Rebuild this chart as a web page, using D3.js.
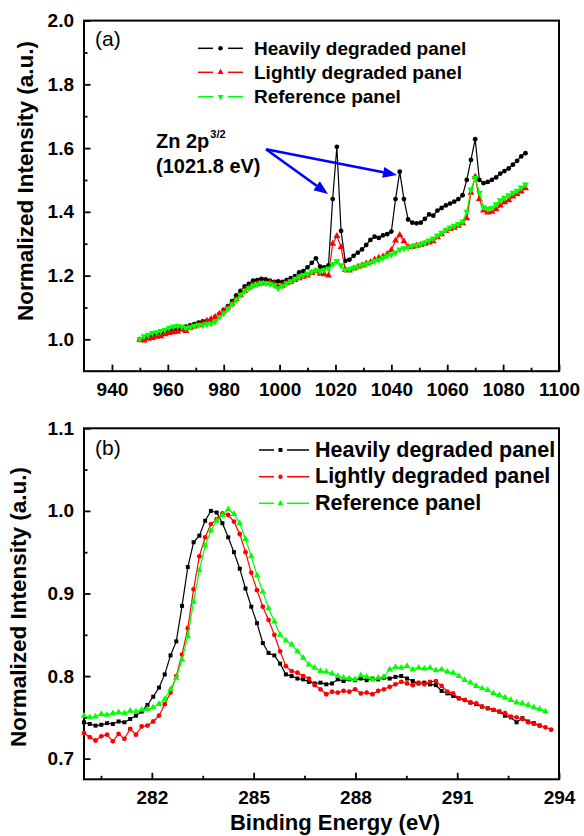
<!DOCTYPE html>
<html><head><meta charset="utf-8">
<script src="https://cdn.jsdelivr.net/npm/d3@7"></script>
<style>body{margin:0;background:#fff} svg{display:block}</style>
</head><body>
<svg id="c" width="584" height="836"></svg>
<script>
// ---------- DATA ----------
// Panel (a): energy grid start/step (eV)
const aStart = 950, aStep = 1.5;
const aHeavy = [1.000,1.004,1.010,1.012,1.018,1.020,1.024,1.028,1.030,1.032,1.036,1.040,1.044,1.048,1.052,1.056,1.058,1.062,1.070,1.080,
1.092,1.104,1.120,1.138,1.152,1.166,1.174,1.184,1.186,1.190,1.188,1.184,1.180,1.182,1.180,1.186,1.192,1.198,1.210,1.214,
1.226,1.240,1.254,1.228,1.226,1.232,1.440,1.604,1.340,1.246,1.250,1.262,1.272,1.282,1.296,1.312,1.322,1.318,1.326,1.330,
1.338,1.440,1.526,1.440,1.376,1.366,1.364,1.366,1.378,1.392,1.388,1.404,1.412,1.420,1.426,1.432,1.440,1.452,1.500,1.563,
1.628,1.500,1.490,1.494,1.500,1.508,1.520,1.528,1.536,1.548,1.560,1.574,1.584];
const aLight = [0.998,0.996,1.002,1.004,1.008,1.010,1.016,1.020,1.022,1.024,1.030,1.026,1.036,1.040,1.044,1.050,1.058,1.064,1.070,1.080,
1.088,1.100,1.112,1.126,1.138,1.152,1.162,1.170,1.174,1.176,1.176,1.178,1.174,1.166,1.168,1.176,1.180,1.186,1.192,1.196,
1.200,1.208,1.214,1.206,1.204,1.200,1.300,1.324,1.290,1.218,1.216,1.222,1.228,1.232,1.238,1.242,1.250,1.256,1.260,1.268,
1.280,1.310,1.327,1.308,1.290,1.290,1.294,1.296,1.300,1.304,1.308,1.320,1.330,1.340,1.346,1.350,1.356,1.364,1.380,1.460,
1.510,1.440,1.404,1.398,1.400,1.408,1.420,1.430,1.436,1.448,1.456,1.464,1.474];
const aRef = [1.000,1.010,1.014,1.020,1.022,1.026,1.030,1.036,1.040,1.042,1.040,1.036,1.038,1.042,1.046,1.044,1.048,1.050,1.056,1.070,
1.082,1.096,1.110,1.124,1.140,1.152,1.160,1.168,1.172,1.176,1.176,1.174,1.170,1.160,1.168,1.176,1.182,1.190,1.196,1.202,
1.206,1.212,1.216,1.214,1.218,1.222,1.236,1.246,1.232,1.218,1.220,1.224,1.228,1.232,1.236,1.240,1.246,1.250,1.256,1.262,
1.266,1.272,1.282,1.286,1.288,1.292,1.296,1.298,1.304,1.310,1.316,1.326,1.334,1.342,1.350,1.356,1.362,1.370,1.400,1.470,
1.506,1.460,1.414,1.410,1.412,1.424,1.436,1.444,1.452,1.460,1.466,1.476,1.486];

// Panel (b): energy grid start/step (eV)
const bStart = 280, bStep = 0.17;
const bHeavy = [0.744,0.742,0.740,0.741,0.743,0.742,0.745,0.744,0.748,0.752,0.757,0.765,0.775,0.786,0.802,0.825,0.842,0.885,0.932,0.962,
0.970,0.988,1.000,0.998,0.985,0.968,0.950,0.930,0.906,0.884,0.864,0.840,0.828,0.825,0.815,0.802,0.800,0.797,0.796,0.793,
0.791,0.792,0.790,0.791,0.796,0.794,0.796,0.795,0.797,0.795,0.797,0.796,0.798,0.797,0.799,0.800,0.797,0.794,0.791,0.792,
0.790,0.789,0.782,0.779,0.776,0.773,0.771,0.768,0.766,0.763,0.761,0.759,0.757,0.752,0.750,0.744,0.749,0.745,0.743,0.740];
const bLight = [0.731,0.726,0.722,0.727,0.729,0.721,0.730,0.724,0.736,0.729,0.739,0.740,0.745,0.752,0.766,0.780,0.800,0.826,0.858,0.905,
0.945,0.968,0.984,0.990,0.997,0.995,0.987,0.972,0.950,0.925,0.904,0.884,0.868,0.850,0.830,0.812,0.806,0.804,0.800,0.797,
0.789,0.784,0.778,0.781,0.780,0.782,0.781,0.784,0.779,0.780,0.778,0.782,0.784,0.787,0.790,0.793,0.791,0.789,0.792,0.790,
0.793,0.794,0.788,0.781,0.779,0.773,0.771,0.768,0.767,0.763,0.761,0.759,0.757,0.755,0.751,0.750,0.748,0.744,0.742,0.740,
0.738,0.735];
const bRef = [0.752,0.750,0.751,0.754,0.753,0.755,0.756,0.755,0.758,0.757,0.759,0.760,0.762,0.766,0.772,0.784,0.798,0.820,0.848,0.890,
0.928,0.958,0.976,0.988,0.995,1.002,0.996,0.985,0.966,0.945,0.922,0.902,0.882,0.866,0.850,0.843,0.838,0.830,0.822,0.814,
0.810,0.806,0.805,0.803,0.800,0.798,0.797,0.796,0.801,0.799,0.796,0.798,0.799,0.808,0.811,0.810,0.812,0.808,0.810,0.809,
0.810,0.807,0.808,0.805,0.804,0.800,0.795,0.792,0.788,0.785,0.783,0.779,0.777,0.774,0.771,0.768,0.767,0.765,0.762,0.760,
0.757];

const aXTicks = [940,960,980,1000,1020,1040,1060,1080,1100];
const aXMinor = [950,970,990,1010,1030,1050,1070,1090];
const aYTicks = [1.0,1.2,1.4,1.6,1.8,2.0];
const aYMinor = [1.1,1.3,1.5,1.7,1.9];
const bXTicks = [282,285,288,291,294];
const bXMinor = [280.5,283.5,286.5,289.5,292.5];
const bYTicks = [0.7,0.8,0.9,1.0,1.1];
const bYMinor = [0.75,0.85,0.95,1.05];
const seriesNames = ["Heavily degraded panel","Lightly degraded panel","Reference panel"];
const seriesColors = ["#000000","#ff0000","#00ff00"];
const yTitle = "Normalized Intensity (a.u.)";
const xTitle = "Binding Energy (eV)";

// ---------- DRAW ----------
const FONT = '"Liberation Sans", Arial, Helvetica, sans-serif';
const svg = d3.select("#c").attr("font-family", FONT);

const xa = d3.scaleLinear([930,1100],[84,559]);
const ya = d3.scaleLinear([0.9,2.0],[371.2,20.6]);
const xb = d3.scaleLinear([280,294],[84,559]);
const yb = d3.scaleLinear([0.675,1.1],[779.3,428.3]);

function axes(x, y, xMaj, xMin, yMaj, yMin, xFmt, yFmt) {
  const [x0,x1] = x.range(), [y0,y1] = y.range();
  const g = svg.append("g");
  const style = s => { s.select(".domain").remove();
    s.attr("font-size",19).attr("font-weight","bold").attr("font-family",FONT);
    s.selectAll("line").attr("stroke","#000").attr("stroke-width",1.8);
    s.selectAll("text").attr("fill","#000"); };
  g.append("g").attr("transform",`translate(0,${y0})`)
    .call(d3.axisBottom(x).tickValues(xMaj).tickSize(-6.5).tickPadding(11).tickFormat(xFmt)).call(style);
  g.append("g").attr("transform",`translate(0,${y0})`)
    .call(d3.axisBottom(x).tickValues(xMin).tickSize(-3.5).tickFormat("")).call(style);
  g.append("g").attr("transform",`translate(${x0},0)`)
    .call(d3.axisLeft(y).tickValues(yMaj).tickSize(-6.5).tickPadding(10).tickFormat(yFmt)).call(style);
  g.append("g").attr("transform",`translate(${x0},0)`)
    .call(d3.axisLeft(y).tickValues(yMin).tickSize(-3.5).tickFormat("")).call(style);
  g.append("rect").attr("x",x0).attr("y",y1).attr("width",x1-x0).attr("height",y0-y1)
    .attr("fill","none").attr("stroke","#000").attr("stroke-width",2);
}

function symbolPath(kind, size) {
  const t = {circle:d3.symbolCircle, square:d3.symbolSquare, up:d3.symbolTriangle, down:d3.symbolTriangle}[kind];
  return d3.symbol().type(t).size(size)();
}

function drawSeries(x, y, start, step, vals, color, kind, size) {
  const pts = vals.map((v,i) => [start + i*step, v]);
  const g = svg.append("g");
  g.append("path").attr("d", d3.line().x(d=>x(d[0])).y(d=>y(d[1]))(pts))
    .attr("fill","none").attr("stroke",color).attr("stroke-width",1.2);
  const p = symbolPath(kind, size);
  g.selectAll("path.m").data(pts).join("path").attr("class","m").attr("d",p)
    .attr("transform", d => `translate(${x(d[0])},${y(d[1])})` + (kind==="down" ? " rotate(180)" : ""))
    .attr("fill",color);
}

function legend(x0, x1, gapL, gapR, mx, textX, rows, fontSize, kinds, size) {
  rows.forEach((r,i) => {
    const g = svg.append("g");
    g.append("line").attr("x1",x0).attr("x2",gapL).attr("y1",r.sy).attr("y2",r.sy)
      .attr("stroke",seriesColors[i]).attr("stroke-width",1.5);
    g.append("line").attr("x1",gapR).attr("x2",x1).attr("y1",r.sy).attr("y2",r.sy)
      .attr("stroke",seriesColors[i]).attr("stroke-width",1.5);
    g.append("path").attr("d",symbolPath(kinds[i],size))
      .attr("transform",`translate(${mx},${r.sy})` + (kinds[i]==="down"?" rotate(180)":""))
      .attr("fill",seriesColors[i]);
    g.append("text").attr("x",textX).attr("y",r.ty).attr("font-size",fontSize)
      .attr("font-weight","bold").text(seriesNames[i]);
  });
}

function arrow(x1,y1,x2,y2) {
  const a = Math.atan2(y2-y1, x2-x1), L = 14, W = 5.5;
  const bx = x2 - L*Math.cos(a), by = y2 - L*Math.sin(a);
  svg.append("line").attr("x1",x1).attr("y1",y1).attr("x2",bx).attr("y2",by)
    .attr("stroke","#0000ff").attr("stroke-width",2.6);
  svg.append("path").attr("d",`M${x2},${y2}L${bx+W*Math.sin(a)},${by-W*Math.cos(a)}L${bx-W*Math.sin(a)},${by+W*Math.cos(a)}Z`)
    .attr("fill","#0000ff");
}

// Panel (a)
axes(xa, ya, aXTicks, aXMinor, aYTicks, aYMinor, d3.format("d"), d3.format(".1f"));
drawSeries(xa, ya, aStart, aStep, aHeavy, seriesColors[0], "circle", 18);
drawSeries(xa, ya, aStart, aStep, aLight, seriesColors[1], "up", 21);
drawSeries(xa, ya, aStart, aStep, aRef, seriesColors[2], "down", 21);
legend(198, 243, 213, 228, 220.5, 254,
  [{sy:48.3,ty:55},{sy:72.3,ty:79.3},{sy:96.7,ty:102.7}], 19, ["circle","up","down"], 16);
svg.append("text").attr("x",95).attr("y",46).attr("font-size",21).text("(a)");
const zn = svg.append("text").attr("x",156).attr("y",148.3).attr("font-size",20).attr("font-weight","bold");
zn.append("tspan").text("Zn 2p");
zn.append("tspan").attr("font-size",11).attr("dy",-10).attr("dx",1).text("3/2");
svg.append("text").attr("x",156).attr("y",173.3).attr("font-size",20).attr("font-weight","bold").text("(1021.8 eV)");
arrow(266,149.3,328,194);
arrow(266,149.3,397,175);

// Panel (b)
axes(xb, yb, bXTicks, bXMinor, bYTicks, bYMinor, d3.format("d"), d3.format(".1f"));
drawSeries(xb, yb, bStart, bStep, bHeavy, seriesColors[0], "square", 16);
drawSeries(xb, yb, bStart, bStep, bLight, seriesColors[1], "circle", 18);
drawSeries(xb, yb, bStart, bStep, bRef, seriesColors[2], "up", 19);
legend(259, 309, 274, 287, 280.5, 315,
  [{sy:450,ty:456.7},{sy:476.7,ty:483.4},{sy:503.3,ty:510}], 21.5, ["square","circle","up"], 15);
svg.append("text").attr("x",95).attr("y",454.5).attr("font-size",21).text("(b)");

// Axis titles
svg.append("text").attr("transform","translate(33,181) rotate(-90)").attr("text-anchor","middle")
  .attr("font-size",22.5).attr("font-weight","bold").text(yTitle);
svg.append("text").attr("transform","translate(26,607) rotate(-90)").attr("text-anchor","middle")
  .attr("font-size",22.5).attr("font-weight","bold").text(yTitle);
svg.append("text").attr("x",335).attr("y",830).attr("text-anchor","middle")
  .attr("font-size",22).attr("font-weight","bold").text(xTitle);
</script>
</body></html>
